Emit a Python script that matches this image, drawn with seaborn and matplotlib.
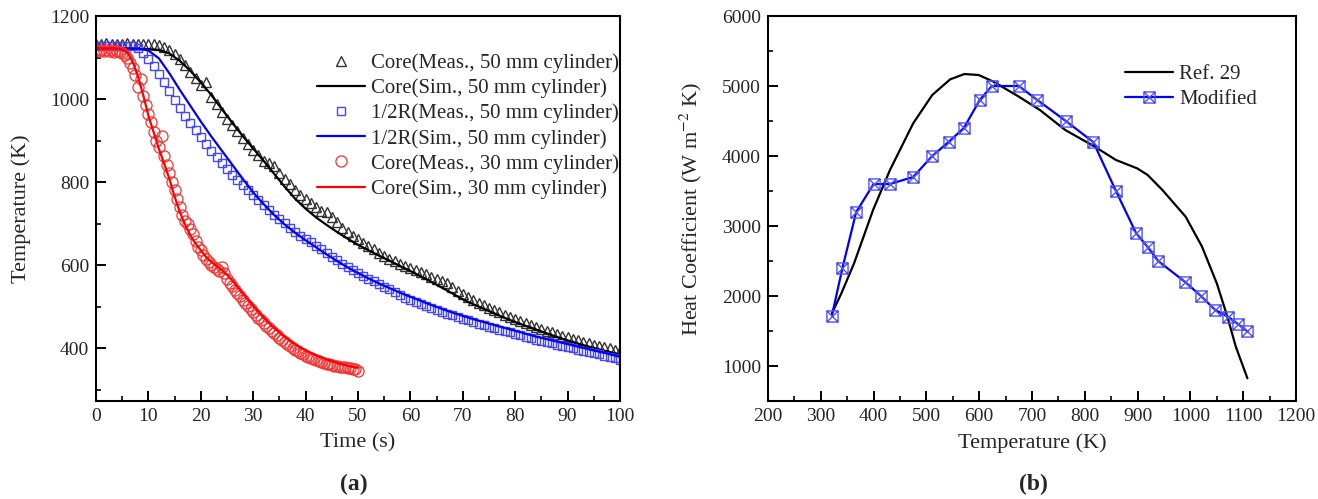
import numpy as np
import pandas as pd
import matplotlib
matplotlib.use("Agg")
import matplotlib.pyplot as plt
from matplotlib.path import Path
from matplotlib.ticker import MultipleLocator
import seaborn as sns

# ---------------- data: panel (a) ----------------
t_meas = list(range(0, 101))            # s, 50 mm cylinder measurements
core50_meas = [1133, 1133, 1134, 1133, 1132, 1133, 1134, 1133, 1132, 1133, 1133, 1132,
               1130, 1126, 1118, 1108, 1096, 1082, 1066, 1050, 1034, 1042, 1005, 988,
               970, 953, 938, 922, 907, 893, 878, 865, 852, 845, 838, 822, 808, 795,
               782, 770, 760, 750, 740, 731, 727, 716, 703, 690, 680, 670, 662, 654,
               646, 638, 630, 622, 615, 609, 604, 598, 593, 588, 583, 578, 572, 567,
               563, 556, 547, 538, 530, 523, 516, 510, 504, 498, 492, 487, 481, 476,
               471, 465, 460, 455, 451, 446, 442, 438, 434, 430, 426, 422, 419, 416,
               412, 409, 406, 403, 400, 397, 394]
half50_meas = [1128, 1128, 1127, 1128, 1128, 1127, 1128, 1127, 1122, 1110, 1096, 1080,
               1060, 1040, 1020, 998, 978, 960, 942, 925, 908, 892, 876, 861, 846, 832,
               818, 805, 793, 780, 768, 756, 745, 734, 722, 711, 701, 690, 681, 671,
               664, 655, 646, 638, 629, 620, 612, 604, 596, 589, 581, 574, 567, 561,
               554, 548, 542, 535, 529, 522, 516, 511, 507, 502, 497, 492, 488, 483,
               479, 475, 471, 467, 463, 459, 455, 452, 448, 445, 441, 438, 434, 431,
               428, 424, 421, 418, 415, 412, 409, 406, 403, 400, 397, 394, 391, 388,
               385, 382, 379, 376, 372]

t_sim50 = list(range(0, 101, 2))
core50_sim = [1121, 1121, 1121, 1121, 1121, 1120, 1118, 1110, 1092, 1068, 1040, 1010,
              976, 943, 911, 881, 851, 820, 789, 760, 736, 715, 697, 680, 664, 649,
              636, 623, 611, 598, 586, 573, 560, 546, 532, 518, 506, 495, 484, 473,
              463, 454, 445, 436, 427, 419, 411, 404, 397, 391, 385]
half50_sim = [1122, 1122, 1122, 1122, 1122, 1117, 1098, 1062, 1022, 984, 946, 910,
              876, 842, 808, 775, 747, 721, 698, 678, 660, 643, 626, 610, 595, 581,
              568, 556, 545, 534, 524, 514, 504, 495, 486, 478, 470, 463, 456, 449,
              442, 435, 428, 422, 416, 410, 404, 398, 392, 386, 380]

t_meas30 = [i * 0.5 for i in range(0, 101)]   # s, 30 mm cylinder measurements
core30_meas = [1118, 1115, 1118, 1115, 1118, 1115, 1117, 1114, 1116, 1113, 1110,
               1105, 1098, 1088, 1075, 1058, 1030, 1048, 1008, 985, 965, 945, 920,
               900, 885, 910, 862, 842, 822, 800, 780, 760, 740, 722, 706, 700, 688,
               674, 658, 645, 636, 625, 616, 608, 601, 596, 590, 586, 595, 580, 566,
               557, 549, 541, 533, 525, 517, 509, 501, 494, 487, 480, 473, 467, 460,
               454, 448, 442, 436, 431, 425, 420, 415, 410, 405, 401, 397, 393, 389,
               386, 382, 379, 376, 373, 371, 369, 367, 365, 363, 361, 360, 358, 357,
               356, 355, 354, 353, 352, 351, 350, 345]

t_sim30 = list(range(0, 51))
core30_sim = [1122, 1122, 1122, 1122, 1122, 1119, 1112, 1090, 1055, 1010, 960, 920,
              880, 845, 808, 765, 728, 698, 672, 652, 636, 620, 608, 598, 588, 577,
              563, 548, 532, 517, 502, 488, 474, 461, 449, 438, 428, 418, 410, 402,
              395, 389, 383, 378, 373, 369, 365, 361, 358, 355, 353]

# ---------------- data: panel (b) ----------------
ref_T = [321, 339, 363, 399, 431, 475, 511, 545, 572, 599, 627, 675, 715, 763, 819,
         859, 899, 919, 947, 991, 1022, 1050, 1070, 1086, 1108]
ref_H = [1752, 2038, 2467, 3229, 3800, 4467, 4871, 5095, 5171, 5157, 5062, 4848,
         4657, 4371, 4133, 3943, 3824, 3729, 3514, 3133, 2705, 2181, 1705, 1276, 824]
mod_T = [321, 341, 367, 400, 431, 475, 511, 542, 571, 601, 624, 675, 710, 764, 816,
         859, 897, 919, 939, 990, 1020, 1047, 1072, 1090, 1107]
mod_H = [1720, 2400, 3200, 3600, 3600, 3700, 4000, 4200, 4400, 4800, 5000, 5000,
         4800, 4500, 4200, 3500, 2900, 2700, 2500, 2200, 2000, 1800, 1700, 1600, 1500]

labels_a = ["Core(Meas., 50 mm cylinder)", "Core(Sim., 50 mm cylinder)",
            "1/2R(Meas., 50 mm cylinder)", "1/2R(Sim., 50 mm cylinder)",
            "Core(Meas., 30 mm cylinder)", "Core(Sim., 30 mm cylinder)"]
labels_b = ["Ref. 29", "Modified"]

# ---------------- style ----------------
sns.set_style("ticks")
plt.rcParams["font.family"] = ["Liberation Serif", "DejaVu Serif"]
plt.rcParams["mathtext.fontset"] = "stix"
plt.rcParams["axes.linewidth"] = 1.5

fig = plt.figure(figsize=(13.18, 4.99), dpi=100)
axa = fig.add_axes([0.07284, 0.19639, 0.39757, 0.77154])
axb = fig.add_axes([0.58270, 0.19639, 0.40061, 0.77154])

# ---------------- panel (a) ----------------
sns.lineplot(x=t_meas, y=core50_meas, ax=axa, marker="^", linestyle="none",
             markersize=7, markerfacecolor="none", markeredgecolor="#333333",
             markeredgewidth=1.0, color="#333333", label=labels_a[0])
sns.lineplot(x=t_sim50, y=core50_sim, ax=axa, color="black", linewidth=1.6,
             label=labels_a[1])
sns.lineplot(x=t_meas, y=half50_meas, ax=axa, marker="s", linestyle="none",
             markersize=6.3, markerfacecolor="none", markeredgecolor="#4646ff",
             markeredgewidth=1.0, color="#4646ff", label=labels_a[2])
sns.lineplot(x=t_sim50, y=half50_sim, ax=axa, color="#0000ff", linewidth=1.6,
             label=labels_a[3])
sns.lineplot(x=t_meas30, y=core30_meas, ax=axa, marker="o", linestyle="none",
             markersize=8, markerfacecolor="none", markeredgecolor="#ff3030",
             markeredgewidth=0.9, color="#ff3030", label=labels_a[4])
sns.lineplot(x=t_sim30, y=core30_sim, ax=axa, color="#ff0000", linewidth=1.6,
             label=labels_a[5])

axa.set_xlim(0, 100)
axa.set_ylim(273, 1200)
axa.xaxis.set_major_locator(MultipleLocator(10))
axa.xaxis.set_minor_locator(MultipleLocator(5))
axa.yaxis.set_major_locator(MultipleLocator(200))
axa.yaxis.set_minor_locator(MultipleLocator(100))
axa.set_yticks([400, 600, 800, 1000, 1200])
axa.set_xlabel("Time (s)", fontsize=16)
axa.set_ylabel("Temperature (K)", fontsize=16)
axa.xaxis.set_label_coords(0.5, -0.085)
axa.yaxis.set_label_coords(-0.125, 0.5)

handles = axa.get_lines()
axa.legend(handles=list(handles), labels=labels_a, loc="upper left",
           bbox_to_anchor=(0.2405, 0.893), bbox_transform=fig.transFigure,
           frameon=False, fontsize=15, handlelength=2.3, handletextpad=0.3,
           labelspacing=0.26, borderpad=0, borderaxespad=0)

# ---------------- panel (b) ----------------
sq_x = Path([(-1, -1), (1, -1), (1, 1), (-1, 1), (-1, -1),
             (-1, -1), (1, 1), (-1, 1), (1, -1)],
            [Path.MOVETO, Path.LINETO, Path.LINETO, Path.LINETO, Path.CLOSEPOLY,
             Path.MOVETO, Path.LINETO, Path.MOVETO, Path.LINETO])

sns.lineplot(x=ref_T, y=ref_H, ax=axb, color="black", linewidth=1.6, sort=False,
             label=labels_b[0])
sns.lineplot(x=mod_T, y=mod_H, ax=axb, color="#0000ff", linewidth=1.6, sort=False,
             marker=sq_x, markersize=8, markerfacecolor="none",
             markeredgecolor="#5050ff", markeredgewidth=1.0, label=labels_b[1])

axb.set_xlim(200, 1200)
axb.set_ylim(500, 6000)
axb.xaxis.set_major_locator(MultipleLocator(100))
axb.xaxis.set_minor_locator(MultipleLocator(50))
axb.yaxis.set_major_locator(MultipleLocator(1000))
axb.yaxis.set_minor_locator(MultipleLocator(500))
axb.set_yticks([1000, 2000, 3000, 4000, 5000, 6000])
axb.set_xlabel("Temperature (K)", fontsize=16)
axb.set_ylabel("Heat Coefficient (W m$^{-2}$ K)", fontsize=16)
axb.xaxis.set_label_coords(0.5, -0.085)
axb.yaxis.set_label_coords(-0.122, 0.5)

axb.legend(handles=list(axb.get_lines()), labels=labels_b, loc="upper left",
           bbox_to_anchor=(0.8536, 0.871), bbox_transform=fig.transFigure,
           frameon=False, fontsize=15, handlelength=2.3, handletextpad=0.3,
           labelspacing=0.28, borderpad=0, borderaxespad=0)

for ax in (axa, axb):
    for s in ax.spines.values():
        s.set_visible(True)
        s.set_linewidth(1.5)
        s.set_color("black")
    ax.tick_params(which="both", direction="in", top=False, right=False,
                   labelsize=14, color="black")
    ax.tick_params(which="major", length=7, width=1.4, pad=5)
    ax.tick_params(which="minor", length=3.8, width=1.2)
    ax.grid(False)

fig.text(354 / 1318, 1 - 484 / 499, "(a)", fontsize=17, fontweight="bold",
         ha="center", va="center")
fig.text(1033 / 1318, 1 - 484 / 499, "(b)", fontsize=17, fontweight="bold",
         ha="center", va="center")

fig.savefig("out.png", dpi=100)
